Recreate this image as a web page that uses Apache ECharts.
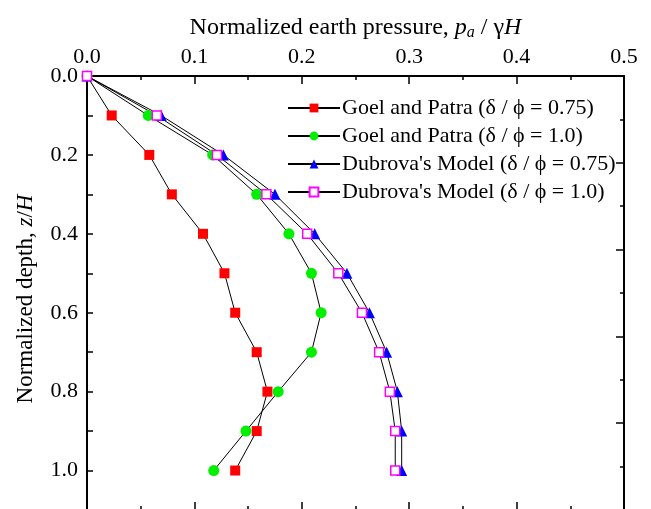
<!DOCTYPE html>
<html>
<head>
<meta charset="utf-8">
<script src="https://cdn.jsdelivr.net/npm/echarts@6/dist/echarts.min.js"></script>
<style>
  html, body { margin: 0; padding: 0; background: #fff; }
  #chart { width: 651px; height: 509px; }
</style>
</head>
<body>
<div id="chart"></div>
<script>
// Normalized depth z/H for every profile
const depth = [0.0, 0.1, 0.2, 0.3, 0.4, 0.5, 0.6, 0.7, 0.8, 0.9, 1.0];

// Normalized earth pressure pa / γH
const goelPatra075 = [0.0, 0.023, 0.058, 0.079, 0.108, 0.128, 0.138, 0.158, 0.168, 0.158, 0.138];
const goelPatra100 = [0.0, 0.057, 0.117, 0.158, 0.188, 0.209, 0.218, 0.209, 0.178, 0.148, 0.118];
const dubrova075   = [0.0, 0.069, 0.127, 0.175, 0.212, 0.242, 0.263, 0.279, 0.289, 0.293, 0.293];
const dubrova100   = [0.0, 0.065, 0.121, 0.167, 0.205, 0.234, 0.256, 0.272, 0.282, 0.287, 0.287];

const seriesNames = [
  'Goel and Patra (δ / ϕ = 0.75)',
  'Goel and Patra (δ / ϕ = 1.0)',
  "Dubrova's Model (δ / ϕ = 0.75)",
  "Dubrova's Model (δ / ϕ = 1.0)"
];

// Tick labels
const xTickLabels = ['0.0', '0.1', '0.2', '0.3', '0.4', '0.5'];
const yTickLabels = ['0.0', '0.2', '0.4', '0.6', '0.8', '1.0'];

const FONT = '"Liberation Serif", "Times New Roman", serif';

function pairs(xs) {
  return xs.map((x, i) => [x, depth[i]]);
}

function findLabel(list, v) {
  const hit = list.find(s => Math.abs(parseFloat(s) - v) < 1e-6);
  return hit === undefined ? '' : hit;
}

const chart = echarts.init(document.getElementById('chart'), null, { renderer: 'canvas' });

const axisLine = { show: true, onZero: false, lineStyle: { color: '#000', width: 2 } };
const tickStyle = { color: '#000', width: 1.5 };

function lineSeries(name, xs, symbol, size, itemStyle) {
  return {
    name: name,
    type: 'line',
    xAxisIndex: 0,
    yAxisIndex: 0,
    data: pairs(xs),
    symbol: symbol,
    symbolSize: size,
    showAllSymbol: true,
    itemStyle: itemStyle,
    lineStyle: { color: '#000', width: 1 },
    emphasis: { disabled: true },
    animation: false
  };
}

chart.setOption({
  backgroundColor: '#fff',
  animation: false,
  textStyle: { fontFamily: FONT },
  grid: { left: 87, top: 76, width: 537, height: 434, containLabel: false, outerBoundsMode: 'none' },
  legend: {
    orient: 'vertical',
    left: 282,
    top: 92,
    itemWidth: 52,
    itemHeight: 11,
    itemGap: 6,
    textStyle: { fontFamily: FONT, fontSize: 22, color: '#000', lineHeight: 22, padding: [0, 0, 0, -3] },
    data: seriesNames
  },
  xAxis: [
    {
      type: 'value', position: 'top', min: 0, max: 0.5, interval: 0.1,
      axisLine: axisLine,
      axisTick: { show: true, inside: true, length: 8, lineStyle: tickStyle },
      minorTick: { show: true, splitNumber: 2, length: 4, lineStyle: tickStyle },
      splitLine: { show: false },
      axisLabel: {
        fontFamily: FONT, fontSize: 22, color: '#000', margin: 8,
        formatter: v => findLabel(xTickLabels, v)
      },
      name: 'Normalized earth pressure, {i|p}{sub|a} / γ{i|H}',
      nameLocation: 'middle',
      nameGap: 34,
      nameTextStyle: {
        fontFamily: FONT, fontSize: 24, color: '#000',
        rich: {
          i: { fontFamily: FONT, fontSize: 24, fontStyle: 'italic', color: '#000' },
          sub: { fontFamily: FONT, fontSize: 16, fontStyle: 'italic', color: '#000', verticalAlign: 'bottom', padding: [10, 0, 0, 0] }
        }
      }
    },
    {
      type: 'value', position: 'bottom', min: 0, max: 0.5, interval: 0.1,
      axisLine: axisLine,
      axisTick: { show: true, inside: true, length: 8, lineStyle: tickStyle },
      minorTick: { show: true, splitNumber: 2, length: 4, lineStyle: tickStyle },
      splitLine: { show: false },
      axisLabel: { show: false }
    }
  ],
  yAxis: [
    {
      type: 'value', position: 'left', inverse: true, min: 0, max: 1.1, interval: 0.1,
      axisLine: axisLine,
      axisTick: { show: true, inside: true, length: 6, lineStyle: tickStyle },
      splitLine: { show: false },
      axisLabel: {
        fontFamily: FONT, fontSize: 22, color: '#000', margin: 9,
        formatter: v => findLabel(yTickLabels, v)
      },
      name: 'Normalized depth, {i|z}/{i|H}',
      nameLocation: 'middle',
      nameGap: 50,
      nameTextStyle: {
        fontFamily: FONT, fontSize: 23, color: '#000',
        padding: [0, 12, 0, 0],
        rich: { i: { fontFamily: FONT, fontSize: 23, fontStyle: 'italic', color: '#000' } }
      }
    },
    {
      type: 'value', position: 'right', inverse: true, min: 0, max: 1, interval: 0.2,
      axisLine: axisLine,
      axisTick: { show: true, inside: true, length: 8, lineStyle: tickStyle },
      minorTick: { show: true, splitNumber: 2, length: 4, lineStyle: tickStyle },
      splitLine: { show: false },
      axisLabel: { show: false }
    }
  ],
  series: [
    lineSeries(seriesNames[0], goelPatra075, 'rect', 10, { color: '#ff0000' }),
    lineSeries(seriesNames[1], goelPatra100, 'circle', 11, { color: '#00f000' }),
    lineSeries(seriesNames[2], dubrova075, 'triangle', 11, { color: '#0000ff' }),
    lineSeries(seriesNames[3], dubrova100, 'rect', 9, { color: '#ffffff', borderColor: '#ff00ff', borderWidth: 1.5 })
  ]
});
</script>
</body>
</html>
